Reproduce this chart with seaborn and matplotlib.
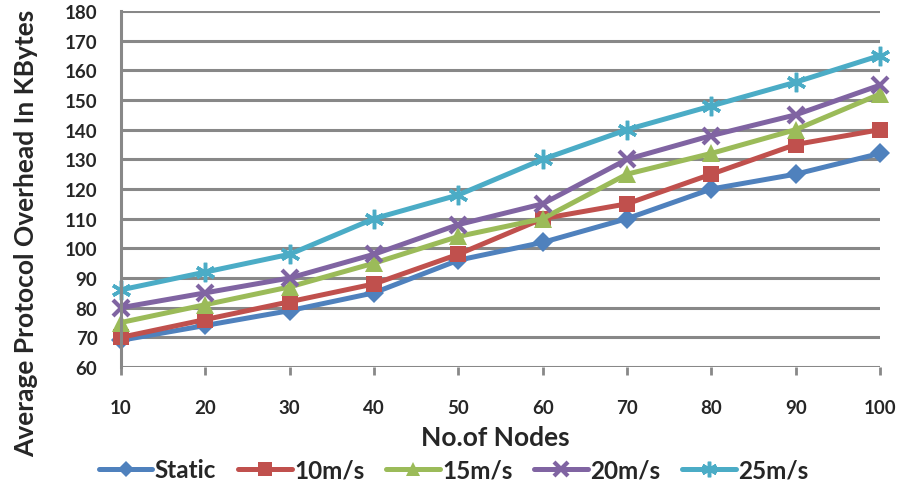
import matplotlib
matplotlib.use("Agg")
import matplotlib.pyplot as plt
import seaborn as sns
import pandas as pd

nodes = [10, 20, 30, 40, 50, 60, 70, 80, 90, 100]
static = [69, 74, 79, 85, 96, 102, 110, 120, 125, 132]
v10 = [70, 76, 82, 88, 98, 110, 115, 125, 135, 140]
v15 = [75, 81, 87, 95, 104, 110, 125, 132, 140, 152]
v20 = [80, 85, 90, 98, 108, 115, 130, 138, 145, 155]
v25 = [86, 92, 98, 110, 118, 130, 140, 148, 156, 165]
series_names = ["Static", "10m/s", "15m/s", "20m/s", "25m/s"]
yticks = [60, 70, 80, 90, 100, 110, 120, 130, 140, 150, 160, 170, 180]

df = pd.DataFrame({"nodes": nodes * 5,
                   "value": static + v10 + v15 + v20 + v25,
                   "series": sum([[n] * len(nodes) for n in series_names], [])})

sns.set_theme(style="white")
plt.rcParams['font.family'] = ['Lato', 'DejaVu Sans']

colors = ["#4F81BD", "#C0504D", "#9BBB59", "#8064A2", "#4BACC6"]
markers = ["D", "s", "^", "x", (6, 2, 0)]
msizes = [10.5, 12, 13, 12, 14]
edgew = [0, 0, 0, 3, 2.5]

W, H = 901, 489
fig = plt.figure(figsize=(W / 100, H / 100), dpi=100)
ax = fig.add_axes([121 / W, (H - 368) / H, (880 - 121) / W, (368 - 12) / H])

for name, c, m, ms, ew in zip(series_names, colors, markers, msizes, edgew):
    sub = df[df.series == name]
    sns.lineplot(data=sub, x="nodes", y="value", ax=ax, color=c, linewidth=3.6,
                 marker=m, markersize=ms, markeredgewidth=ew,
                 markeredgecolor=c, markerfacecolor=c, label=name, clip_on=False)

ax.set_xlim(10, 100)
ax.set_ylim(60, 180)
ax.set_yticks(yticks)
ax.set_xticks(nodes)
ax.grid(axis="y", color="#888888", linewidth=2.2)
ax.set_axisbelow(True)
for s in ["top", "right", "bottom"]:
    ax.spines[s].set_visible(False)
ax.spines["left"].set_color("#888888")
ax.spines["left"].set_linewidth(2.2)
ax.tick_params(axis="y", length=6, width=2, color="#888888", direction="out", pad=11,
               labelsize=13.5)
ax.tick_params(axis="x", length=6, width=2, color="#888888", direction="out", pad=17,
               labelsize=13.5, bottom=True)
for lab in ax.get_xticklabels() + ax.get_yticklabels():
    lab.set_fontweight("bold")
ax.set_xlabel("")
ax.set_ylabel("")
fig.text(495 / W, 1 - 446 / H, "No.of Nodes", fontsize=19, fontweight="bold",
         ha="center", va="baseline")
fig.text(26 / W, 1 - 233.5 / H, "Average Protocol Overhead In KBytes", fontsize=19,
         fontweight="bold", rotation=90, ha="center", va="center")

ax.get_legend().remove()
handles, labels = ax.get_legend_handles_labels()
fig.legend(handles, labels, loc="center left", bbox_to_anchor=(99 / W, 1 - 471 / H),
           ncol=5, frameon=False, handlelength=2.2, handletextpad=0.1,
           columnspacing=0.9, borderpad=0, borderaxespad=0,
           prop={"weight": "bold", "size": 17.5}, markerscale=0.8)
plt.savefig("out.png", dpi=100)
